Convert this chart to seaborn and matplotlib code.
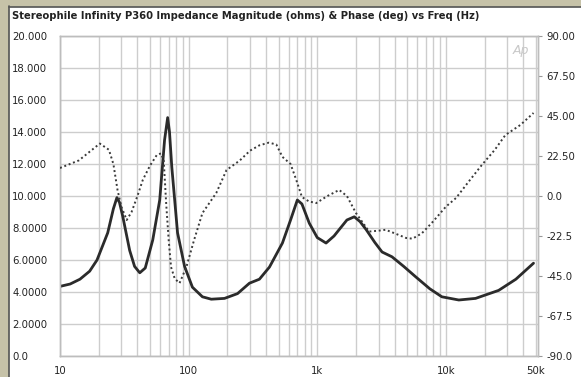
import numpy as np
import pandas as pd
import matplotlib
matplotlib.use("Agg")
import matplotlib.pyplot as plt
import matplotlib.ticker as mticker
from matplotlib.patches import Rectangle
import seaborn as sns

# impedance magnitude (ohms)
mag_freq = [10, 12, 14.3, 17, 19.4, 23.5, 26, 27.7, 29, 30.8, 34.8, 38, 41.7, 46, 52.6,
            59.6, 65, 68.7, 71, 74, 82, 93, 107, 128, 150, 190, 240, 297, 355, 425, 536,
            620, 700, 760, 867, 1000, 1170, 1350, 1480, 1700, 1940, 2150, 2400, 2800,
            3190, 3810, 4700, 5840, 7500, 9300, 12600, 17000, 25700, 35000, 48000]
mag_ohms = [4.35, 4.5, 4.8, 5.3, 6.0, 7.7, 9.2, 9.9, 9.6, 8.7, 6.6, 5.6, 5.2, 5.5, 7.25,
            9.75, 13.5, 14.9, 14.0, 11.8, 7.7, 5.6, 4.3, 3.7, 3.55, 3.6, 3.9, 4.55, 4.8, 5.56, 7.06,
            8.5, 9.75, 9.5, 8.3, 7.4, 7.06, 7.5, 7.9, 8.5, 8.7, 8.4, 7.9, 7.1,
            6.5, 6.2, 5.6, 4.94, 4.2, 3.7, 3.5, 3.6, 4.1, 4.8, 5.8]

# impedance phase (deg)
ph_freq = [10, 14, 20.4, 24, 26, 28, 30, 33, 36, 40, 44, 50, 56.5, 61, 64, 67, 70, 73,
           78, 85, 96, 110, 128, 164, 197, 250, 300, 355, 420, 480, 536, 620, 687, 760,
           860, 980, 1200, 1480, 1700, 2000, 2530, 3000, 3400, 4000, 4900, 5500, 6500,
           7800, 10000, 12000, 15000, 19000, 24000, 29000, 38000, 48000]
ph_deg = [15.75, 20, 29.5, 26, 18, 3.4, -6, -13.5, -9, 0, 9, 17, 23, 24, 20, -5, -25, -40,
          -46.5, -49, -40, -25, -9.6, 1.7, 14.6, 20, 25.5, 28.5, 30, 29, 22, 18, 9, -0.6,
          -3, -4, 0, 3.4, 0, -9.6, -20, -19.5, -19, -21, -23.6, -24, -21,
          -15, -6, -1.1, 8, 17.4, 26, 34.3, 40, 46.7]

left_ticks = [0, 2, 4, 6, 8, 10, 12, 14, 16, 18, 20]
left_labels = ["0.0", "2.0000", "4.0000", "6.0000", "8.0000", "10.000", "12.000",
               "14.000", "16.000", "18.000", "20.000"]
right_ticks = [-90, -67.5, -45, -22.5, 0, 22.5, 45, 67.5, 90]
right_labels = ["-90.0", "-67.5", "-45.0", "-22.5", "0.0", "22.50", "45.00", "67.50", "90.00"]
x_ticks = [10, 100, 1000, 10000, 50000]
x_labels = ["10", "100", "1k", "10k", "50k"]

title = "Stereophile Infinity P360 Impedance Magnitude (ohms) & Phase (deg) vs Freq (Hz)"

sns.set_theme(style="white")
plt.rcParams['font.family'] = ['DejaVu Sans']

W, H = 581, 377
fig = plt.figure(figsize=(W / 100, H / 100), dpi=100)
fig.patch.set_facecolor("white")

# beige frame on the left and top, with a dark edge
beige = "#c6c2a8"
fig.patches.append(Rectangle((0, 0), 8 / W, 1, transform=fig.transFigure, color=beige, zorder=0))
fig.patches.append(Rectangle((0, 1 - 6 / H), 1, 6 / H, transform=fig.transFigure, color=beige, zorder=0))
fig.lines.append(plt.Line2D([8.5 / W, 8.5 / W], [0, 1 - 6 / H], transform=fig.transFigure, color="#555555", lw=1.2))
fig.lines.append(plt.Line2D([8.5 / W, 1], [1 - 6.5 / H, 1 - 6.5 / H], transform=fig.transFigure, color="#555555", lw=1.2))

ax = fig.add_axes([60 / W, (H - 356) / H, (538 - 60) / W, (356 - 36) / H])
ax2 = ax.twinx()

mag_df = pd.DataFrame({"freq": mag_freq, "ohms": mag_ohms})
ph_df = pd.DataFrame({"freq": ph_freq, "deg": ph_deg})

sns.lineplot(data=mag_df, x="freq", y="ohms", ax=ax, color="#2b2b2b", lw=2.0, zorder=3)
sns.lineplot(data=ph_df, x="freq", y="deg", ax=ax2, color="#3a3a3a", lw=1.4,
             linestyle=(0, (1, 1.4)), zorder=3)

ax.set_xscale("log")
ax.set_xlim(10, 52000)
ax.set_ylim(0, 20)
ax2.set_ylim(-90, 90)

ax.set_xticks(x_ticks)
ax.set_xticklabels(x_labels)
ax.xaxis.set_minor_locator(mticker.LogLocator(base=10, subs=np.arange(2, 10)))
ax.xaxis.set_minor_formatter(mticker.NullFormatter())
ax.set_yticks(left_ticks)
ax.set_yticklabels(left_labels)
ax2.set_yticks(right_ticks)
ax2.set_yticklabels(right_labels)

grid_c = "#cdcdcd"
ax.grid(which="both", axis="x", color=grid_c, lw=1.0)
ax.grid(which="major", axis="y", color=grid_c, lw=1.0)
ax.set_axisbelow(True)
for a in (ax, ax2):
    for s in a.spines.values():
        s.set_color("#bdbdbd")
        s.set_linewidth(1.0)

tick_font = 7.3
ax.tick_params(axis="x", which="both", length=0, pad=7, labelsize=tick_font, labelcolor="#222222")
ax.tick_params(axis="y", length=0, pad=34.5, labelsize=tick_font, labelcolor="#222222")
for lab in ax.get_yticklabels():
    lab.set_ha("left")
ax2.tick_params(axis="y", length=3, width=0.8, color="#999999", pad=3,
                labelsize=tick_font, labelcolor="#222222")

ax.set_xlabel("")
ax.set_ylabel("")
ax2.set_ylabel("")

ax.text(0.965, 0.955, "Ap", transform=ax.transAxes, ha="center", va="center",
        fontsize=9, color="#c8c8c8", style="italic")

fig.text(12 / W, 1 - 16 / H, title, ha="left", va="center", fontsize=7.2,
         fontweight="bold", color="#222222")

fig.savefig("out.png", dpi=100)
plt.close(fig)
